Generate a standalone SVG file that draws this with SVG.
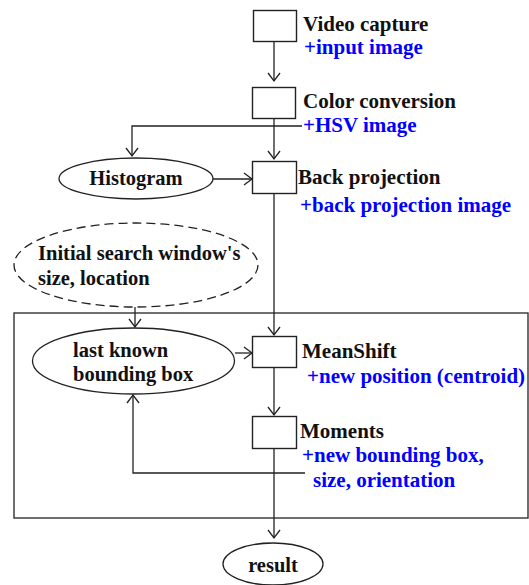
<svg xmlns="http://www.w3.org/2000/svg" width="529" height="585" viewBox="0 0 529 585">
<defs>
<marker id="arr" markerUnits="userSpaceOnUse" markerWidth="12" markerHeight="14" viewBox="-10 -7 12 14" refX="0" refY="0" orient="auto">
<path d="M-8,-6 L0,0 L-8,6" fill="none" stroke="#222" stroke-width="1.3"/>
</marker>
<style>
.box{fill:#fff;stroke:#222;stroke-width:1.4}
.ell{fill:#fff;stroke:#222;stroke-width:1.3}
.dash{fill:none;stroke:#222;stroke-width:1.3;stroke-dasharray:9 5}
.frame{fill:none;stroke:#333;stroke-width:1.4}
.ln{fill:none;stroke:#222;stroke-width:1.3}
.arr{fill:none;stroke:#222;stroke-width:1.3;marker-end:url(#arr)}
.t{font-family:"Liberation Serif","Times New Roman",serif;font-weight:bold;font-size:21px;fill:#111}
.b{font-family:"Liberation Serif","Times New Roman",serif;font-weight:bold;font-size:21px;fill:#0000ff}
.c{text-anchor:middle}
.s{font-size:20.5px}
</style>
</defs>
<rect class="frame" x="14" y="313" width="514" height="205"/>
<g id="connectors">
<path class="arr" d="M274,41 V81"/>
<path class="arr" d="M274,118 V159"/>
<path class="arr" d="M302,126 H132 V156"/>
<path class="arr" d="M213,179 H252"/>
<path class="arr" d="M274,193 V335"/>
<path class="arr" d="M135,307 V327"/>
<path class="arr" d="M235,353 H252"/>
<path class="arr" d="M274,367 V415"/>
<path class="arr" d="M305,473 H133 V395"/>
<path class="arr" d="M274,448 V538"/>
</g>
<g id="video-capture">
<rect class="box" x="253.5" y="10.5" width="43" height="31"/>
<text class="t" x="303" y="31">Video capture</text>
<text class="b" x="304" y="54">+input image</text>
</g>
<g id="color-conversion">
<rect class="box" x="252.5" y="87.5" width="43" height="31"/>
<text class="t" x="303" y="108">Color conversion</text>
<text class="b" x="303" y="132">+HSV image</text>
</g>
<g id="histogram">
<ellipse class="ell" cx="136" cy="178.5" rx="77" ry="20.5"/>
<text class="t c s" x="136" y="185">Histogram</text>
</g>
<g id="back-projection">
<rect class="box" x="252.5" y="161.5" width="44" height="32"/>
<text class="t" x="298" y="184">Back projection</text>
<text class="b" x="300" y="212">+back projection image</text>
</g>
<g id="initial-window">
<ellipse class="dash" cx="136" cy="265" rx="122" ry="42"/>
<text class="t s" x="38" y="260">Initial search window's</text>
<text class="t s" x="38" y="285">size, location</text>
</g>
<g id="last-known">
<ellipse class="ell" cx="133.5" cy="361" rx="101" ry="33"/>
<text class="t s" x="73" y="357">last known</text>
<text class="t s" x="73" y="381">bounding box</text>
</g>
<g id="meanshift">
<rect class="box" x="252.5" y="336.5" width="44" height="31"/>
<text class="t" x="302" y="358">MeanShift</text>
<text class="b" x="307" y="383">+new position (centroid)</text>
</g>
<g id="moments">
<rect class="box" x="252.5" y="416.5" width="44" height="32"/>
<text class="t" x="300" y="438">Moments</text>
<text class="b" x="302" y="462">+new bounding box,</text>
<text class="b" x="313" y="487">size, orientation</text>
</g>
<g id="result">
<ellipse class="ell" cx="273" cy="564" rx="50" ry="21"/>
<text class="t c s" x="273" y="572">result</text>
</g>
</svg>
